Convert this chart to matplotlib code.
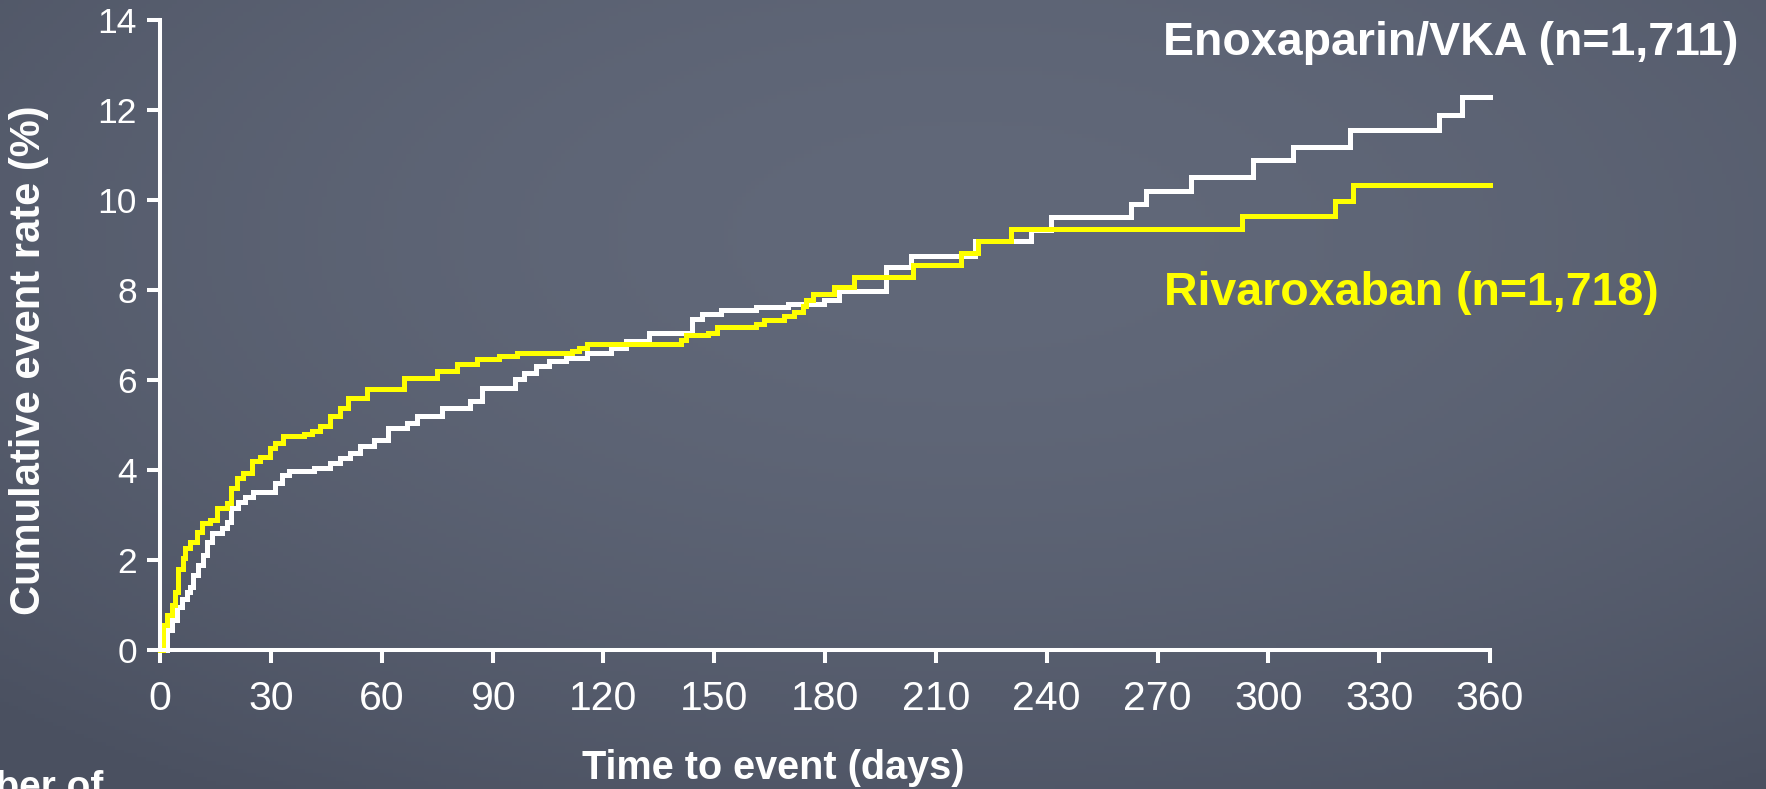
import matplotlib.pyplot as plt
import numpy as np

# Kaplan-Meier style cumulative event rates
# (day at which each step happens, value after the step)
ENOX_DAYS = [0, 1.8, 3.2, 4.5, 5.9, 7.2, 8.1, 9.0, 10.4, 11.7, 12.6, 14.0, 16.7,
             18.2, 19.2, 21.2, 23.0, 25.3, 31.2, 33.0, 34.8, 41.6, 46.1, 48.8,
             51.5, 54.2, 57.8, 61.8, 66.8, 69.5, 76.3, 83.9, 87.1, 96.1, 98.5,
             101.7, 105.3, 109.8, 115.7, 122.0, 126.1, 132.4, 144.1, 146.8,
             151.8, 161.3, 169.9, 179.8, 183.9, 196.5, 203.3, 220.5, 235.8,
             241.3, 262.9, 267.0, 279.0, 295.9, 306.8, 322.1, 346.1, 352.4, 360]
ENOX_RATE = [0, 0.44, 0.66, 0.96, 1.14, 1.29, 1.40, 1.67, 1.89, 2.11, 2.41, 2.59,
             2.71, 2.85, 3.15, 3.30, 3.41, 3.52, 3.71, 3.89, 3.97, 4.04, 4.15,
             4.26, 4.38, 4.53, 4.67, 4.93, 5.04, 5.19, 5.38, 5.53, 5.83, 6.02,
             6.16, 6.31, 6.42, 6.49, 6.61, 6.72, 6.87, 7.05, 7.35, 7.46, 7.55,
             7.62, 7.70, 7.77, 7.97, 8.52, 8.76, 9.10, 9.34, 9.62, 9.91, 10.21,
             10.52, 10.88, 11.18, 11.55, 11.90, 12.28, 12.28]

RIVA_DAYS = [0, 0.7, 1.8, 3.2, 4.1, 5.0, 6.1, 6.8, 8.1, 9.9, 11.3, 13.6, 15.5,
             18.2, 19.2, 20.8, 22.6, 24.8, 27.1, 29.8, 31.2, 33.3, 38.9, 41.1,
             43.4, 46.1, 48.8, 51.0, 56.0, 66.0, 75.0, 80.4, 85.8, 91.7, 96.7,
             111.6, 113.4, 115.7, 141.0, 142.3, 148.2, 150.9, 161.3, 163.5,
             169.0, 171.7, 174.0, 174.8, 176.7, 182.5, 187.9, 203.8, 216.9,
             221.4, 230.4, 293.0, 318.1, 323.0, 360]
RIVA_RATE = [0, 0.55, 0.77, 1.00, 1.29, 1.81, 2.04, 2.26, 2.41, 2.63, 2.82, 2.89,
             3.15, 3.26, 3.60, 3.82, 3.93, 4.19, 4.30, 4.49, 4.60, 4.75, 4.79,
             4.86, 4.97, 5.19, 5.38, 5.60, 5.79, 6.05, 6.20, 6.35, 6.46, 6.53,
             6.59, 6.64, 6.72, 6.81, 6.90, 7.00, 7.05, 7.18, 7.25, 7.33, 7.42,
             7.52, 7.65, 7.77, 7.92, 8.07, 8.28, 8.56, 8.82, 9.10, 9.36, 9.65,
             9.97, 10.34, 10.34]

X_TICKS = list(range(0, 361, 30))
Y_TICKS = list(range(0, 15, 2))

ENOX_LABEL = "Enoxaparin/VKA (n=1,711)"
RIVA_LABEL = "Rivaroxaban (n=1,718)"

W, H = 1766, 789
plt.rcParams['font.family'] = ['Liberation Sans', 'DejaVu Sans']

fig = plt.figure(figsize=(W / 100, H / 100), dpi=100)

# chalkboard-ish background: light centre, slightly darker edges
bg = fig.add_axes([0, 0, 1, 1], zorder=-10)
yy, xx = np.mgrid[0:1:200j, 0:1:400j]
d = np.sqrt(((xx - 0.55) / 0.8) ** 2 + ((yy - 0.3) / 0.85) ** 2)
d = np.clip(d, 0, 1) ** 1.8
centre = np.array([0x61, 0x68, 0x79]) / 255
edge = np.array([0x4a, 0x50, 0x60]) / 255
img = centre[None, None, :] * (1 - d[..., None]) + edge[None, None, :] * d[..., None]
bg.imshow(img, aspect='auto', extent=[0, 1, 0, 1], origin='upper')
bg.axis('off')

ax = fig.add_axes([160 / W, 1 - 650 / H, 1330 / W, 630 / H])
ax.patch.set_alpha(0)

ax.step(ENOX_DAYS, ENOX_RATE, where='post', color='white', lw=3.6, clip_on=False,
        solid_joinstyle='miter')
ax.step(RIVA_DAYS, RIVA_RATE, where='post', color='#ffff00', lw=3.6, clip_on=False,
        solid_joinstyle='miter')

ax.set_xlim(0, 360)
ax.set_ylim(0, 14)
ax.set_xticks(X_TICKS)
ax.set_yticks(Y_TICKS)

for s in ['top', 'right']:
    ax.spines[s].set_visible(False)
for s in ['left', 'bottom']:
    ax.spines[s].set_color('white')
    ax.spines[s].set_linewidth(2.9)

ax.tick_params(colors='white', direction='out', length=9.5, width=2.9)
ax.tick_params(axis='x', labelsize=29.5, pad=12)
ax.tick_params(axis='y', labelsize=25.5, pad=7)

fig.text(29 / W, 1 - 360 / H, "Cumulative event rate (%)", rotation=90,
         ha='center', va='center', color='white', fontsize=30, fontweight='bold')
fig.text(773 / W, 1 - 779 / H, "Time to event (days)", ha='center', va='baseline',
         color='white', fontsize=28.5, fontweight='bold')

fig.text(1163 / W, 1 - 55 / H, ENOX_LABEL, ha='left', va='baseline',
         color='white', fontsize=33.5, fontweight='bold')
fig.text(1164 / W, 1 - 305 / H, RIVA_LABEL, ha='left', va='baseline',
         color='#ffff00', fontsize=33.5, fontweight='bold')

# cut-off row label of the at-risk table below the chart (cut off in the slide too)
fig.text(103 / W, 1 - 798 / H, "Number of", ha='right', va='baseline',
         color='white', fontsize=28, fontweight='bold')

plt.savefig("out.png", dpi=100)
